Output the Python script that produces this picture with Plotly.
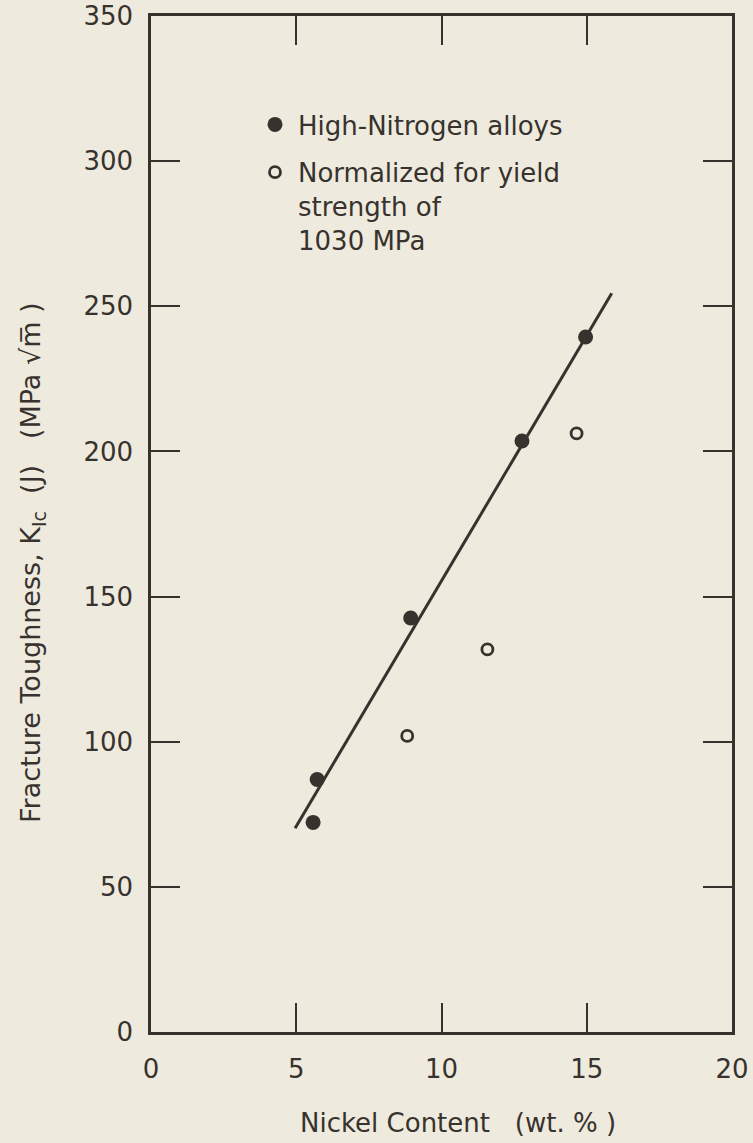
import plotly.graph_objects as go

# ---- data ----
nickel_high_n = [5.58, 5.72, 8.94, 12.77, 14.96]
kic_high_n = [72.2, 87.0, 142.6, 203.6, 239.4]

nickel_norm = [8.82, 11.58, 14.65]
kic_norm = [102.0, 131.8, 206.2]

fit_x = [4.96, 15.86]
fit_y = [70.2, 254.5]

x_ticks = [0, 5, 10, 15, 20]
y_ticks = [0, 50, 100, 150, 200, 250, 300, 350]

INK = "#37322e"
BG = "#eeeadd"
FONT = "DejaVu Sans"

fig = go.Figure()

fig.add_trace(go.Scatter(
    x=fit_x, y=fit_y, mode="lines",
    line=dict(color=INK, width=3),
    showlegend=False, hoverinfo="skip",
))
fig.add_trace(go.Scatter(
    x=nickel_high_n, y=kic_high_n, mode="markers",
    name="High-Nitrogen alloys", legendgroup="a",
    marker=dict(symbol="circle", size=15, color=INK),
))
fig.add_trace(go.Scatter(
    x=nickel_norm, y=kic_norm, mode="markers",
    name="Normalized for yield<br>strength of<br>1030 MPa", legendgroup="b",
    marker=dict(symbol="circle-open", size=11, color=INK, line=dict(width=2.8, color=INK)),
))

axis_common = dict(
    showgrid=False, zeroline=False, automargin=False,
    showline=True, linecolor=INK, linewidth=2.5,
    mirror="ticks", ticks="inside", tickcolor=INK, tickwidth=2,
    tickfont=dict(family=FONT, size=26, color=INK),
)

fig.update_xaxes(
    range=[0, 20], tickvals=x_ticks, ticktext=[str(v) for v in x_ticks],
    ticklen=29, ticklabelstandoff=12, **axis_common,
)
fig.update_yaxes(
    range=[0, 350], tickvals=y_ticks, ticktext=[str(v) for v in y_ticks],
    ticklen=29, ticklabelstandoff=10, **axis_common,
)

fig.add_annotation(
    text="Fracture Toughness, K<sub>Ic</sub>  (J)   (MPa \u221am\u0305 )",
    xref="paper", yref="paper", x=(33 - 151) / 581, y=(1032 - 563) / 1016,
    xanchor="center", yanchor="middle", textangle=-90, showarrow=False,
    font=dict(family=FONT, size=27, color=INK),
)
fig.add_annotation(
    text="Nickel Content   (wt. % )",
    xref="paper", yref="paper", x=(458 - 151) / 581, y=(1032 - 1123) / 1016,
    xanchor="center", yanchor="middle", showarrow=False,
    font=dict(family=FONT, size=26, color=INK),
)

fig.update_layout(
    width=753, height=1143,
    margin=dict(l=151, r=21, t=16, b=111, pad=0),
    paper_bgcolor=BG, plot_bgcolor=BG,
    showlegend=True,
    legend=dict(
        x=(252 - 151) / 581, y=(1032 - 101) / 1016,
        xanchor="left", yanchor="top",
        bgcolor="rgba(0,0,0,0)", borderwidth=0,
        font=dict(family=FONT, size=26, color=INK),
        valign="top", tracegroupgap=11, itemwidth=36,
    ),
)

fig.write_html(
    "out.html",
    config={"displayModeBar": False},
    post_script="document.body.style.margin='0';",
)
